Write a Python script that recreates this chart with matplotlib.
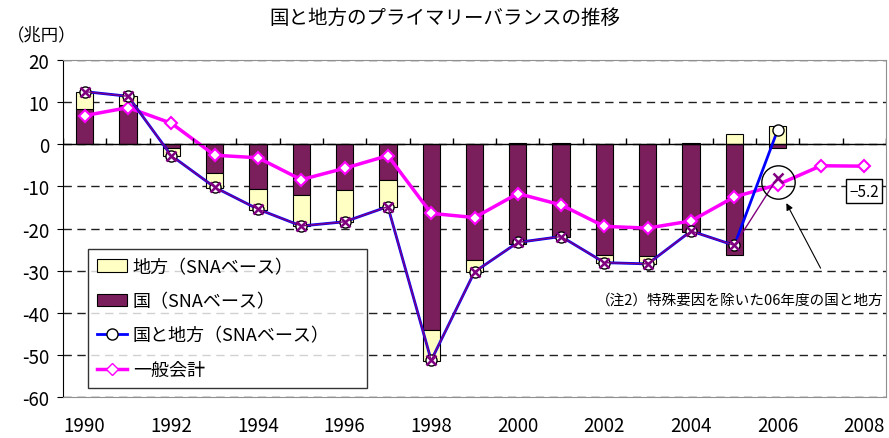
import matplotlib
matplotlib.use('Agg')
import matplotlib.pyplot as plt
import numpy as np
from matplotlib.patches import Patch
from matplotlib.lines import Line2D

plt.rcParams['font.family'] = ['Noto Sans CJK JP', 'DejaVu Sans']
plt.rcParams['axes.unicode_minus'] = False

nan = np.nan

# データ（兆円）
years = list(range(1990, 2009))
kuni = [8.4, 9.3, -1.0, -6.8, -10.6, -12.0, -10.8, -8.5, -44.1, -27.4,
        -23.7, -22.1, -26.3, -26.6, -20.8, -26.4, -0.9, nan, nan]
chiho = [4.1, 2.1, -1.7, -3.5, -4.9, -7.4, -7.6, -6.5, -7.3, -2.9,
         0.4, 0.2, -1.8, -1.8, 0.3, 2.4, 4.3, nan, nan]
kuni_chiho = [12.5, 11.4, -2.7, -10.2, -15.4, -19.4, -18.4, -14.8, -51.3, -30.3,
              -23.3, -21.9, -28.1, -28.4, -20.6, -24.0, 3.4, nan, nan]
# 特殊要因を除いた国と地方（06年度のみ異なる）
kuni_chiho_adj = [12.5, 11.4, -2.7, -10.2, -15.4, -19.4, -18.4, -14.8, -51.3, -30.3,
                  -23.3, -21.9, -28.1, -28.4, -20.6, -24.0, -7.9, nan, nan]
ippan = [6.8, 8.7, 5.0, -2.6, -3.2, -8.4, -5.7, -2.7, -16.4, -17.4,
         -11.7, -14.4, -19.5, -19.9, -18.2, -12.5, -9.6, -5.1, -5.2]

labels = ['地方（SNAベース）', '国（SNAベース）', '国と地方（SNAベース）', '一般会計']
title = '国と地方のプライマリーバランスの推移'
note = '（注2）特殊要因を除いた06年度の国と地方'

yellow = '#ffffc4'
purple = '#7b1f5c'

fig = plt.figure(figsize=(8.89, 4.39), dpi=100)
ax = fig.add_axes([0.0709, 0.0934, 0.9257, 0.7676])

x = np.arange(len(years))
k = np.array(kuni)
c = np.array(chiho)
# 同符号なら積み上げ、異符号なら0から
bottom = np.where(np.sign(k) == np.sign(c), k, 0)

w = 0.4
ax.bar(x, k, width=w, color=purple, edgecolor='black', linewidth=0.8, zorder=2)
ax.bar(x, c, width=w, bottom=bottom, color=yellow, edgecolor='black', linewidth=0.8, zorder=2)

ax.plot(x, ippan, color='#ff00ff', lw=2.5, marker='D', ms=6, mfc='white',
        mec='#ff00ff', mew=1.5, zorder=3)
ax.plot(x, kuni_chiho, color='#0000ff', lw=2, marker='o', ms=8, mfc='white',
        mec='black', mew=1, zorder=4)
ax.plot(x, kuni_chiho_adj, color='#800080', lw=1, marker='x', ms=7, mew=1.8, zorder=5)

# 0の線と区切り目盛
ax.axhline(0, color='black', lw=1, zorder=3)
ax.vlines(np.arange(len(years) + 1) - 0.5, 0, 1.4, color='black', lw=1, zorder=3)

ax.set_xlim(-0.5, len(years) - 0.5)
ax.set_ylim(-60, 20)
ax.set_yticks(np.arange(-60, 21, 10))
ax.yaxis.grid(True, linestyle=(0, (6, 4)), color='#202020', lw=1)
ax.set_axisbelow(True)

ax.set_xticks(x[::2])
ax.set_xticklabels([str(y) for y in years[::2]])
ax.tick_params(axis='x', length=0, pad=13, labelsize=13.5)
ax.tick_params(axis='y', length=4, pad=6, labelsize=13.5)

for s in ['top', 'right', 'bottom']:
    ax.spines[s].set_color('#909090')
ax.spines['left'].set_color('black')

# 注記
ax.plot(16, -9.05, 'o', mfc='none', mec='black', ms=24, mew=1, zorder=6)
ax.annotate('', xy=(16.17, -13.4), xytext=(17.02, -30.0),
            arrowprops=dict(arrowstyle='-|>', color='black', lw=0.8), zorder=6)
ax.text(18.44, -36.8, note, ha='right', va='center', fontsize=10.5)
ax.text(18, -11.1, '−5.2', ha='center', va='center', fontsize=11,
        bbox=dict(boxstyle='square,pad=0.2', fc='white', ec='black', lw=1))

handles = [
    Patch(facecolor=yellow, edgecolor='black', linewidth=0.8),
    Patch(facecolor=purple, edgecolor='black', linewidth=0.8),
    Line2D([0], [0], color='#0000ff', lw=2, marker='o', ms=8, mfc='white', mec='black'),
    Line2D([0], [0], color='#ff00ff', lw=2.5, marker='D', ms=6, mfc='white', mec='#ff00ff'),
]
leg = ax.legend(handles, labels, loc='lower left', bbox_to_anchor=(0.030, 0.027, 0.339, 0.409),
                mode='expand', fontsize=13, frameon=True, fancybox=False,
                edgecolor='black', handlelength=1.7, borderpad=0.5, labelspacing=0.9,
                handletextpad=0.3, borderaxespad=0)
leg.get_frame().set_linewidth(1)

fig.text(0.5, 0.958, title, ha='center', va='center', fontsize=14)
fig.text(0.008, 0.92, '（兆円）', ha='left', va='center', fontsize=12.5)

fig.savefig('out.png', dpi=100)
